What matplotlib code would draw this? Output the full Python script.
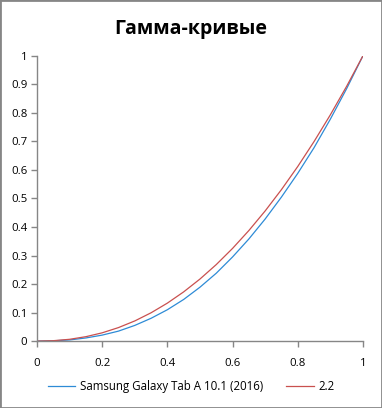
import numpy as np
import matplotlib
matplotlib.use("Agg")
import matplotlib.pyplot as plt
from matplotlib.patches import Rectangle

# gamma curves, input level 0..1
levels = [0.0, 0.05, 0.1, 0.15, 0.2, 0.25, 0.3, 0.35, 0.4, 0.45, 0.5,
          0.55, 0.6, 0.65, 0.7, 0.75, 0.8, 0.85, 0.9, 0.95, 1.0]
samsung = [0.0, 0.001, 0.004, 0.011, 0.021, 0.035, 0.055, 0.080, 0.110, 0.146,
           0.189, 0.238, 0.295, 0.358, 0.428, 0.505, 0.588, 0.678, 0.778, 0.885, 1.0]
gamma22 = [0.0, 0.0014, 0.0063, 0.0155, 0.0290, 0.0474, 0.0707, 0.0993, 0.1332,
           0.1726, 0.2176, 0.2683, 0.3250, 0.3876, 0.4563, 0.5311, 0.6121,
           0.6995, 0.7932, 0.8933, 1.0]
labels = ["Samsung Galaxy Tab A 10.1 (2016)", "2.2"]

plt.rcParams['font.family'] = ['Open Sans', 'DejaVu Sans']

fig = plt.figure(figsize=(3.82, 4.08), dpi=100)
ax = fig.add_axes([0.097, 0.164, 0.853, 0.699])

ax.plot(levels, samsung, color='#2e8bd6', lw=0.9, label=labels[0])
ax.plot(levels, gamma22, color='#c9504f', lw=0.9, label=labels[1])

ax.set_xlim(0, 1)
ax.set_ylim(0, 1)
ax.set_xticks(np.arange(0, 1.01, 0.2))
ax.set_yticks(np.arange(0, 1.01, 0.1))
ax.set_xticklabels(['0', '0.2', '0.4', '0.6', '0.8', '1'])
ax.set_yticklabels(['0', '0.1', '0.2', '0.3', '0.4', '0.5', '0.6', '0.7', '0.8', '0.9', '1'])

for s in ['top', 'right']:
    ax.spines[s].set_visible(False)
for s in ['left', 'bottom']:
    ax.spines[s].set_color('#868686')
    ax.spines[s].set_linewidth(1.0)
ax.tick_params(direction='out', length=4, width=1.0, color='#868686',
               labelsize=8.2, pad=3)
ax.tick_params(axis='x', pad=8)

fig.text(0.5, 0.93, 'Гамма-кривые', ha='center', va='center',
         fontsize=14, fontweight='bold')

fig.legend(loc='center', bbox_to_anchor=(0.5, 0.052), ncol=2, frameon=False,
           fontsize=8.3, handlelength=2.4, columnspacing=2.0, handletextpad=0.4)

fig.patches.append(Rectangle((0, 0), 1, 1, transform=fig.transFigure,
                             fill=False, edgecolor='#868686', lw=2))

fig.savefig('out.png', dpi=100)
